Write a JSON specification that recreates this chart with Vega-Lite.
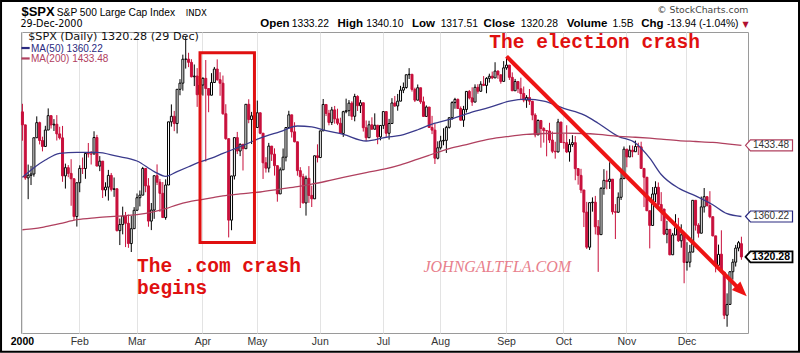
{
"$schema": "https://vega.github.io/schema/vega-lite/v6.json",
"autosize": {"type": "none"},
"width": 727, "height": 301,
"padding": {"left": 21, "top": 32, "right": 52, "bottom": 20},
"background": "white",
"config": {
  "view": {"stroke": "#9a9a9a", "strokeWidth": 1},
  "axis": {"gridColor": "#e3e3e3", "gridWidth": 1, "ticks": false, "domain": false, "labelColor": "#333333", "labelFont": "Liberation Sans", "labelFontSize": 10}
},
"datasets": {
"px": [
{"d":"2000-01-03","o":1469.25,"h":1478.00,"l":1438.36,"c":1455.22},
{"d":"2000-01-04","o":1455.22,"h":1455.22,"l":1397.43,"c":1399.42},
{"d":"2000-01-05","o":1399.42,"h":1413.27,"l":1377.68,"c":1402.11},
{"d":"2000-01-06","o":1402.11,"h":1411.90,"l":1392.10,"c":1403.45},
{"d":"2000-01-07","o":1403.45,"h":1441.47,"l":1400.73,"c":1441.47},
{"d":"2000-01-10","o":1441.47,"h":1464.36,"l":1441.47,"c":1457.60},
{"d":"2000-01-11","o":1457.60,"h":1458.66,"l":1434.42,"c":1438.56},
{"d":"2000-01-12","o":1438.56,"h":1442.60,"l":1427.08,"c":1432.25},
{"d":"2000-01-13","o":1432.25,"h":1454.20,"l":1432.25,"c":1449.68},
{"d":"2000-01-14","o":1449.68,"h":1473.00,"l":1449.68,"c":1465.15},
{"d":"2000-01-18","o":1465.15,"h":1465.15,"l":1451.30,"c":1455.14},
{"d":"2000-01-19","o":1455.14,"h":1461.39,"l":1448.68,"c":1455.90},
{"d":"2000-01-20","o":1455.90,"h":1465.71,"l":1438.54,"c":1445.57},
{"d":"2000-01-21","o":1445.57,"h":1453.18,"l":1439.60,"c":1441.36},
{"d":"2000-01-24","o":1441.36,"h":1454.09,"l":1395.42,"c":1401.53},
{"d":"2000-01-25","o":1401.53,"h":1414.26,"l":1388.49,"c":1410.03},
{"d":"2000-01-26","o":1410.03,"h":1412.73,"l":1400.16,"c":1404.09},
{"d":"2000-01-27","o":1404.09,"h":1418.86,"l":1370.99,"c":1398.56},
{"d":"2000-01-28","o":1398.56,"h":1398.56,"l":1356.20,"c":1360.16},
{"d":"2000-01-31","o":1360.16,"h":1394.48,"l":1350.14,"c":1394.46},
{"d":"2000-02-01","o":1394.46,"h":1412.49,"l":1384.79,"c":1409.28},
{"d":"2000-02-02","o":1409.28,"h":1420.61,"l":1403.49,"c":1409.12},
{"d":"2000-02-03","o":1409.12,"h":1425.78,"l":1398.52,"c":1424.97},
{"d":"2000-02-04","o":1424.97,"h":1435.91,"l":1420.63,"c":1424.37},
{"d":"2000-02-07","o":1424.37,"h":1427.38,"l":1413.33,"c":1424.24},
{"d":"2000-02-08","o":1424.24,"h":1448.36,"l":1424.24,"c":1441.72},
{"d":"2000-02-09","o":1441.72,"h":1444.55,"l":1411.65,"c":1411.71},
{"d":"2000-02-10","o":1411.71,"h":1422.10,"l":1406.43,"c":1416.83},
{"d":"2000-02-11","o":1416.83,"h":1416.83,"l":1378.89,"c":1387.12},
{"d":"2000-02-14","o":1387.12,"h":1394.93,"l":1380.53,"c":1389.94},
{"d":"2000-02-15","o":1389.94,"h":1407.72,"l":1376.25,"c":1402.05},
{"d":"2000-02-16","o":1402.05,"h":1404.55,"l":1385.58,"c":1387.67},
{"d":"2000-02-17","o":1387.67,"h":1399.88,"l":1380.07,"c":1388.26},
{"d":"2000-02-18","o":1388.26,"h":1388.59,"l":1345.32,"c":1346.09},
{"d":"2000-02-22","o":1346.09,"h":1358.11,"l":1331.88,"c":1352.17},
{"d":"2000-02-23","o":1352.17,"h":1370.11,"l":1342.44,"c":1360.69},
{"d":"2000-02-24","o":1360.69,"h":1364.80,"l":1329.88,"c":1353.43},
{"d":"2000-02-25","o":1353.43,"h":1362.14,"l":1329.15,"c":1333.36},
{"d":"2000-02-28","o":1333.36,"h":1360.82,"l":1325.07,"c":1348.05},
{"d":"2000-02-29","o":1348.05,"h":1369.63,"l":1348.05,"c":1366.42},
{"d":"2000-03-01","o":1366.42,"h":1383.46,"l":1366.42,"c":1379.19},
{"d":"2000-03-02","o":1379.19,"h":1386.56,"l":1370.35,"c":1381.76},
{"d":"2000-03-03","o":1381.76,"h":1410.88,"l":1381.76,"c":1409.17},
{"d":"2000-03-06","o":1409.17,"h":1409.74,"l":1384.75,"c":1391.28},
{"d":"2000-03-07","o":1391.28,"h":1399.21,"l":1349.99,"c":1355.62},
{"d":"2000-03-08","o":1355.62,"h":1373.79,"l":1346.62,"c":1366.70},
{"d":"2000-03-09","o":1366.70,"h":1401.82,"l":1357.88,"c":1401.69},
{"d":"2000-03-10","o":1401.69,"h":1413.46,"l":1392.07,"c":1395.07},
{"d":"2000-03-13","o":1395.07,"h":1398.39,"l":1364.84,"c":1383.62},
{"d":"2000-03-14","o":1383.62,"h":1395.15,"l":1359.15,"c":1359.15},
{"d":"2000-03-15","o":1359.15,"h":1397.99,"l":1356.99,"c":1392.14},
{"d":"2000-03-16","o":1392.14,"h":1458.47,"l":1392.14,"c":1458.47},
{"d":"2000-03-17","o":1458.47,"h":1477.33,"l":1453.32,"c":1464.47},
{"d":"2000-03-20","o":1464.47,"h":1470.30,"l":1448.49,"c":1456.63},
{"d":"2000-03-21","o":1456.63,"h":1493.92,"l":1446.06,"c":1493.87},
{"d":"2000-03-22","o":1493.87,"h":1505.08,"l":1487.33,"c":1500.64},
{"d":"2000-03-23","o":1500.64,"h":1532.50,"l":1492.39,"c":1527.35},
{"d":"2000-03-24","o":1527.35,"h":1552.87,"l":1516.83,"c":1527.46},
{"d":"2000-03-27","o":1527.46,"h":1534.63,"l":1518.46,"c":1523.86},
{"d":"2000-03-28","o":1523.86,"h":1527.36,"l":1507.09,"c":1507.73},
{"d":"2000-03-29","o":1507.73,"h":1521.45,"l":1497.45,"c":1508.52},
{"d":"2000-03-30","o":1508.52,"h":1517.38,"l":1474.63,"c":1487.92},
{"d":"2000-03-31","o":1487.92,"h":1519.81,"l":1484.38,"c":1498.58},
{"d":"2000-04-03","o":1498.58,"h":1507.19,"l":1486.96,"c":1505.97},
{"d":"2000-04-04","o":1505.97,"h":1526.45,"l":1416.41,"c":1494.73},
{"d":"2000-04-05","o":1494.73,"h":1494.73,"l":1468.86,"c":1487.37},
{"d":"2000-04-06","o":1487.37,"h":1511.76,"l":1487.37,"c":1501.34},
{"d":"2000-04-07","o":1501.34,"h":1518.68,"l":1501.34,"c":1516.35},
{"d":"2000-04-10","o":1516.35,"h":1527.19,"l":1503.35,"c":1504.46},
{"d":"2000-04-11","o":1504.46,"h":1512.80,"l":1486.78,"c":1500.59},
{"d":"2000-04-12","o":1500.59,"h":1509.08,"l":1466.15,"c":1467.17},
{"d":"2000-04-13","o":1467.17,"h":1477.52,"l":1439.34,"c":1440.51},
{"d":"2000-04-14","o":1440.51,"h":1440.51,"l":1339.40,"c":1356.56},
{"d":"2000-04-17","o":1356.56,"h":1401.53,"l":1346.50,"c":1401.44},
{"d":"2000-04-18","o":1401.44,"h":1441.61,"l":1397.81,"c":1441.61},
{"d":"2000-04-19","o":1441.61,"h":1447.69,"l":1424.26,"c":1427.47},
{"d":"2000-04-20","o":1427.47,"h":1435.49,"l":1422.08,"c":1434.54},
{"d":"2000-04-24","o":1434.54,"h":1434.54,"l":1407.13,"c":1429.86},
{"d":"2000-04-25","o":1429.86,"h":1477.67,"l":1429.86,"c":1477.44},
{"d":"2000-04-26","o":1477.44,"h":1482.94,"l":1456.98,"c":1460.99},
{"d":"2000-04-27","o":1460.99,"h":1469.21,"l":1434.81,"c":1464.92},
{"d":"2000-04-28","o":1464.92,"h":1473.62,"l":1448.15,"c":1452.43},
{"d":"2000-05-01","o":1452.43,"h":1481.51,"l":1452.43,"c":1468.25},
{"d":"2000-05-02","o":1468.25,"h":1468.25,"l":1445.22,"c":1446.29},
{"d":"2000-05-03","o":1446.29,"h":1446.29,"l":1398.36,"c":1415.10},
{"d":"2000-05-04","o":1415.10,"h":1420.99,"l":1404.94,"c":1409.57},
{"d":"2000-05-05","o":1409.57,"h":1436.03,"l":1405.08,"c":1432.63},
{"d":"2000-05-08","o":1432.63,"h":1432.63,"l":1417.05,"c":1424.17},
{"d":"2000-05-09","o":1424.17,"h":1430.28,"l":1401.85,"c":1412.14},
{"d":"2000-05-10","o":1412.14,"h":1412.14,"l":1375.14,"c":1383.05},
{"d":"2000-05-11","o":1383.05,"h":1410.26,"l":1383.05,"c":1407.81},
{"d":"2000-05-12","o":1407.81,"h":1430.13,"l":1407.81,"c":1420.96},
{"d":"2000-05-15","o":1420.96,"h":1452.39,"l":1416.54,"c":1452.36},
{"d":"2000-05-16","o":1452.36,"h":1470.40,"l":1450.76,"c":1466.04},
{"d":"2000-05-17","o":1466.04,"h":1466.04,"l":1441.67,"c":1447.80},
{"d":"2000-05-18","o":1447.80,"h":1458.04,"l":1436.59,"c":1437.21},
{"d":"2000-05-19","o":1437.21,"h":1437.21,"l":1401.74,"c":1406.95},
{"d":"2000-05-22","o":1406.95,"h":1410.55,"l":1368.73,"c":1400.72},
{"d":"2000-05-23","o":1400.72,"h":1403.77,"l":1373.43,"c":1373.86},
{"d":"2000-05-24","o":1373.86,"h":1401.75,"l":1361.09,"c":1399.05},
{"d":"2000-05-25","o":1399.05,"h":1411.65,"l":1373.93,"c":1381.52},
{"d":"2000-05-26","o":1381.52,"h":1391.42,"l":1369.75,"c":1378.02},
{"d":"2000-05-30","o":1378.02,"h":1422.45,"l":1378.02,"c":1422.45},
{"d":"2000-05-31","o":1422.45,"h":1434.49,"l":1415.50,"c":1420.60},
{"d":"2000-06-01","o":1420.60,"h":1448.81,"l":1420.60,"c":1448.81},
{"d":"2000-06-02","o":1448.81,"h":1483.23,"l":1448.81,"c":1477.26},
{"d":"2000-06-05","o":1477.26,"h":1477.28,"l":1464.68,"c":1467.63},
{"d":"2000-06-06","o":1467.63,"h":1471.36,"l":1454.74,"c":1457.84},
{"d":"2000-06-07","o":1457.84,"h":1474.64,"l":1455.06,"c":1471.36},
{"d":"2000-06-08","o":1471.36,"h":1475.65,"l":1456.49,"c":1461.67},
{"d":"2000-06-09","o":1461.67,"h":1472.67,"l":1454.96,"c":1456.95},
{"d":"2000-06-12","o":1456.95,"h":1462.93,"l":1445.99,"c":1446.00},
{"d":"2000-06-13","o":1446.00,"h":1470.42,"l":1442.38,"c":1469.44},
{"d":"2000-06-14","o":1469.44,"h":1483.62,"l":1467.71,"c":1470.54},
{"d":"2000-06-15","o":1470.54,"h":1482.04,"l":1464.62,"c":1478.73},
{"d":"2000-06-16","o":1478.73,"h":1480.77,"l":1460.42,"c":1464.46},
{"d":"2000-06-19","o":1464.46,"h":1488.93,"l":1459.05,"c":1486.00},
{"d":"2000-06-20","o":1486.00,"h":1487.32,"l":1470.18,"c":1475.95},
{"d":"2000-06-21","o":1475.95,"h":1482.19,"l":1468.00,"c":1479.13},
{"d":"2000-06-22","o":1479.13,"h":1479.13,"l":1448.03,"c":1452.18},
{"d":"2000-06-23","o":1452.18,"h":1459.94,"l":1438.31,"c":1441.48},
{"d":"2000-06-26","o":1441.48,"h":1459.66,"l":1441.48,"c":1455.31},
{"d":"2000-06-27","o":1455.31,"h":1463.35,"l":1450.55,"c":1450.55},
{"d":"2000-06-28","o":1450.55,"h":1467.63,"l":1450.55,"c":1454.82},
{"d":"2000-06-29","o":1454.82,"h":1455.14,"l":1434.63,"c":1442.39},
{"d":"2000-06-30","o":1442.39,"h":1454.68,"l":1438.71,"c":1454.60},
{"d":"2000-07-03","o":1454.60,"h":1469.58,"l":1450.85,"c":1469.54},
{"d":"2000-07-05","o":1469.54,"h":1469.54,"l":1442.45,"c":1446.23},
{"d":"2000-07-06","o":1446.23,"h":1461.65,"l":1439.56,"c":1456.67},
{"d":"2000-07-07","o":1456.67,"h":1484.12,"l":1456.67,"c":1478.90},
{"d":"2000-07-10","o":1478.90,"h":1486.56,"l":1474.76,"c":1475.62},
{"d":"2000-07-11","o":1475.62,"h":1488.77,"l":1470.48,"c":1480.88},
{"d":"2000-07-12","o":1480.88,"h":1497.69,"l":1480.88,"c":1492.92},
{"d":"2000-07-13","o":1492.92,"h":1501.39,"l":1489.65,"c":1495.84},
{"d":"2000-07-14","o":1495.84,"h":1509.99,"l":1494.56,"c":1509.98},
{"d":"2000-07-17","o":1509.98,"h":1517.32,"l":1505.26,"c":1510.49},
{"d":"2000-07-18","o":1510.49,"h":1510.49,"l":1491.35,"c":1493.74},
{"d":"2000-07-19","o":1493.74,"h":1495.63,"l":1479.92,"c":1481.96},
{"d":"2000-07-20","o":1481.96,"h":1499.19,"l":1481.96,"c":1495.57},
{"d":"2000-07-21","o":1495.57,"h":1495.57,"l":1477.91,"c":1480.19},
{"d":"2000-07-24","o":1480.19,"h":1485.88,"l":1463.80,"c":1464.29},
{"d":"2000-07-25","o":1464.29,"h":1476.23,"l":1464.29,"c":1474.47},
{"d":"2000-07-26","o":1474.47,"h":1474.47,"l":1452.42,"c":1452.42},
{"d":"2000-07-27","o":1452.42,"h":1464.91,"l":1445.33,"c":1449.62},
{"d":"2000-07-28","o":1449.62,"h":1456.68,"l":1413.89,"c":1419.89},
{"d":"2000-07-31","o":1419.89,"h":1437.65,"l":1418.71,"c":1430.83},
{"d":"2000-08-01","o":1430.83,"h":1443.54,"l":1428.96,"c":1438.10},
{"d":"2000-08-02","o":1438.10,"h":1451.59,"l":1433.49,"c":1438.70},
{"d":"2000-08-03","o":1438.70,"h":1454.19,"l":1425.43,"c":1452.56},
{"d":"2000-08-04","o":1452.56,"h":1462.93,"l":1451.31,"c":1462.93},
{"d":"2000-08-07","o":1462.93,"h":1480.80,"l":1460.72,"c":1479.32},
{"d":"2000-08-08","o":1479.32,"h":1484.52,"l":1472.61,"c":1482.80},
{"d":"2000-08-09","o":1482.80,"h":1483.80,"l":1472.84,"c":1472.87},
{"d":"2000-08-10","o":1472.87,"h":1475.15,"l":1459.89,"c":1460.25},
{"d":"2000-08-11","o":1460.25,"h":1475.72,"l":1453.06,"c":1471.84},
{"d":"2000-08-14","o":1471.84,"h":1491.64,"l":1468.56,"c":1491.56},
{"d":"2000-08-15","o":1491.56,"h":1493.12,"l":1482.74,"c":1484.43},
{"d":"2000-08-16","o":1484.43,"h":1496.09,"l":1475.74,"c":1479.85},
{"d":"2000-08-17","o":1479.85,"h":1499.32,"l":1479.85,"c":1496.07},
{"d":"2000-08-18","o":1496.07,"h":1499.47,"l":1488.99,"c":1491.72},
{"d":"2000-08-21","o":1491.72,"h":1502.84,"l":1491.13,"c":1499.48},
{"d":"2000-08-22","o":1499.48,"h":1508.45,"l":1497.42,"c":1498.13},
{"d":"2000-08-23","o":1498.13,"h":1507.20,"l":1489.52,"c":1505.97},
{"d":"2000-08-24","o":1505.97,"h":1511.16,"l":1501.25,"c":1508.31},
{"d":"2000-08-25","o":1508.31,"h":1513.47,"l":1505.09,"c":1506.45},
{"d":"2000-08-28","o":1506.45,"h":1523.95,"l":1506.45,"c":1514.09},
{"d":"2000-08-29","o":1514.09,"h":1514.81,"l":1505.46,"c":1509.84},
{"d":"2000-08-30","o":1509.84,"h":1510.49,"l":1500.09,"c":1502.59},
{"d":"2000-08-31","o":1502.59,"h":1525.21,"l":1502.59,"c":1517.68},
{"d":"2000-09-01","o":1517.68,"h":1530.09,"l":1515.53,"c":1520.77},
{"d":"2000-09-05","o":1520.77,"h":1520.77,"l":1504.21,"c":1507.08},
{"d":"2000-09-06","o":1507.08,"h":1512.61,"l":1492.12,"c":1492.25},
{"d":"2000-09-07","o":1492.25,"h":1505.34,"l":1492.25,"c":1502.51},
{"d":"2000-09-08","o":1502.51,"h":1502.51,"l":1489.88,"c":1494.50},
{"d":"2000-09-11","o":1494.50,"h":1506.76,"l":1483.01,"c":1489.26},
{"d":"2000-09-12","o":1489.26,"h":1496.93,"l":1479.67,"c":1481.99},
{"d":"2000-09-13","o":1481.99,"h":1487.45,"l":1473.61,"c":1484.91},
{"d":"2000-09-14","o":1484.91,"h":1494.16,"l":1476.73,"c":1480.87},
{"d":"2000-09-15","o":1480.87,"h":1480.96,"l":1460.22,"c":1465.81},
{"d":"2000-09-18","o":1465.81,"h":1467.77,"l":1441.92,"c":1444.51},
{"d":"2000-09-19","o":1444.51,"h":1461.16,"l":1444.51,"c":1459.90},
{"d":"2000-09-20","o":1459.90,"h":1460.49,"l":1430.95,"c":1451.34},
{"d":"2000-09-21","o":1451.34,"h":1452.77,"l":1436.30,"c":1449.05},
{"d":"2000-09-22","o":1449.05,"h":1449.05,"l":1421.88,"c":1448.72},
{"d":"2000-09-25","o":1448.72,"h":1457.42,"l":1435.93,"c":1439.03},
{"d":"2000-09-26","o":1439.03,"h":1448.04,"l":1425.25,"c":1427.21},
{"d":"2000-09-27","o":1427.21,"h":1437.22,"l":1419.44,"c":1426.57},
{"d":"2000-09-28","o":1426.57,"h":1461.69,"l":1425.78,"c":1458.29},
{"d":"2000-09-29","o":1458.29,"h":1458.29,"l":1436.29,"c":1436.51},
{"d":"2000-10-02","o":1436.52,"h":1445.60,"l":1429.83,"c":1436.23},
{"d":"2000-10-03","o":1436.23,"h":1454.82,"l":1425.28,"c":1426.46},
{"d":"2000-10-04","o":1426.46,"h":1439.99,"l":1416.31,"c":1434.32},
{"d":"2000-10-05","o":1434.32,"h":1444.17,"l":1431.80,"c":1436.28},
{"d":"2000-10-06","o":1436.28,"h":1443.30,"l":1397.06,"c":1408.99},
{"d":"2000-10-09","o":1408.99,"h":1409.69,"l":1392.48,"c":1402.03},
{"d":"2000-10-10","o":1402.03,"h":1408.83,"l":1383.85,"c":1387.02},
{"d":"2000-10-11","o":1387.02,"h":1387.02,"l":1349.67,"c":1364.59},
{"d":"2000-10-12","o":1364.59,"h":1374.93,"l":1328.06,"c":1329.78},
{"d":"2000-10-13","o":1329.78,"h":1374.17,"l":1327.08,"c":1374.17},
{"d":"2000-10-16","o":1374.17,"h":1379.48,"l":1365.06,"c":1374.62},
{"d":"2000-10-17","o":1374.62,"h":1380.99,"l":1342.34,"c":1349.97},
{"d":"2000-10-18","o":1349.97,"h":1356.65,"l":1305.79,"c":1342.13},
{"d":"2000-10-19","o":1342.13,"h":1389.93,"l":1342.13,"c":1388.76},
{"d":"2000-10-20","o":1388.76,"h":1408.47,"l":1382.19,"c":1396.93},
{"d":"2000-10-23","o":1396.93,"h":1406.96,"l":1387.75,"c":1395.78},
{"d":"2000-10-24","o":1395.78,"h":1415.64,"l":1388.13,"c":1398.13},
{"d":"2000-10-25","o":1398.13,"h":1398.13,"l":1362.21,"c":1364.90},
{"d":"2000-10-26","o":1364.90,"h":1372.72,"l":1337.81,"c":1364.44},
{"d":"2000-10-27","o":1364.44,"h":1384.57,"l":1364.13,"c":1379.58},
{"d":"2000-10-30","o":1379.58,"h":1406.36,"l":1376.86,"c":1398.66},
{"d":"2000-10-31","o":1398.66,"h":1432.22,"l":1398.66,"c":1429.40},
{"d":"2000-11-01","o":1429.40,"h":1429.60,"l":1410.45,"c":1421.22},
{"d":"2000-11-02","o":1421.22,"h":1433.40,"l":1421.22,"c":1428.32},
{"d":"2000-11-03","o":1428.32,"h":1433.21,"l":1420.92,"c":1426.69},
{"d":"2000-11-06","o":1426.69,"h":1438.46,"l":1426.69,"c":1432.19},
{"d":"2000-11-07","o":1432.19,"h":1436.22,"l":1423.26,"c":1431.87},
{"d":"2000-11-08","o":1431.87,"h":1437.28,"l":1408.78,"c":1409.28},
{"d":"2000-11-09","o":1409.28,"h":1409.28,"l":1369.68,"c":1400.14},
{"d":"2000-11-10","o":1400.14,"h":1400.14,"l":1365.97,"c":1365.98},
{"d":"2000-11-13","o":1365.98,"h":1365.98,"l":1328.62,"c":1351.26},
{"d":"2000-11-14","o":1351.26,"h":1390.06,"l":1351.26,"c":1382.95},
{"d":"2000-11-15","o":1382.95,"h":1395.96,"l":1374.75,"c":1389.81},
{"d":"2000-11-16","o":1389.81,"h":1394.76,"l":1370.39,"c":1372.32},
{"d":"2000-11-17","o":1372.32,"h":1384.85,"l":1355.55,"c":1367.72},
{"d":"2000-11-20","o":1367.72,"h":1367.72,"l":1341.67,"c":1342.62},
{"d":"2000-11-21","o":1342.62,"h":1355.87,"l":1333.62,"c":1347.35},
{"d":"2000-11-22","o":1347.35,"h":1347.35,"l":1321.89,"c":1322.36},
{"d":"2000-11-24","o":1322.36,"h":1343.83,"l":1322.36,"c":1341.77},
{"d":"2000-11-27","o":1341.77,"h":1362.50,"l":1341.77,"c":1348.97},
{"d":"2000-11-28","o":1348.97,"h":1358.81,"l":1334.97,"c":1336.09},
{"d":"2000-11-29","o":1336.09,"h":1352.38,"l":1329.28,"c":1341.93},
{"d":"2000-11-30","o":1341.91,"h":1341.91,"l":1294.90,"c":1314.95},
{"d":"2000-12-01","o":1314.95,"h":1334.67,"l":1307.02,"c":1315.23},
{"d":"2000-12-04","o":1315.18,"h":1332.06,"l":1310.23,"c":1324.97},
{"d":"2000-12-05","o":1324.97,"h":1376.56,"l":1324.97,"c":1376.54},
{"d":"2000-12-06","o":1376.54,"h":1376.54,"l":1346.15,"c":1351.46},
{"d":"2000-12-07","o":1351.46,"h":1353.50,"l":1339.26,"c":1343.55},
{"d":"2000-12-08","o":1343.55,"h":1380.33,"l":1343.55,"c":1369.89},
{"d":"2000-12-11","o":1369.89,"h":1389.05,"l":1364.14,"c":1380.20},
{"d":"2000-12-12","o":1380.20,"h":1380.27,"l":1370.27,"c":1371.18},
{"d":"2000-12-13","o":1371.18,"h":1385.82,"l":1358.48,"c":1359.99},
{"d":"2000-12-14","o":1359.99,"h":1359.99,"l":1340.48,"c":1340.93},
{"d":"2000-12-15","o":1340.93,"h":1340.93,"l":1305.38,"c":1312.15},
{"d":"2000-12-18","o":1312.15,"h":1332.32,"l":1310.10,"c":1322.74},
{"d":"2000-12-19","o":1322.96,"h":1346.44,"l":1305.20,"c":1305.60},
{"d":"2000-12-20","o":1305.60,"h":1305.60,"l":1261.16,"c":1264.74},
{"d":"2000-12-21","o":1264.74,"h":1285.31,"l":1254.07,"c":1274.86},
{"d":"2000-12-22","o":1274.86,"h":1305.97,"l":1274.86,"c":1305.95},
{"d":"2000-12-26","o":1305.97,"h":1318.31,"l":1298.31,"c":1315.19},
{"d":"2000-12-27","o":1315.19,"h":1332.03,"l":1310.96,"c":1328.92},
{"d":"2000-12-28","o":1328.92,"h":1335.93,"l":1325.78,"c":1334.22},
{"d":"2000-12-29","o":1333.22,"h":1340.10,"l":1317.51,"c":1320.28}
],
"ma": [
{"d":"2000-01-03","a":1400,"b":1347},
{"d":"2000-01-07","a":1410,"b":1348},
{"d":"2000-01-13","a":1418,"b":1350},
{"d":"2000-01-21","a":1425,"b":1353},
{"d":"2000-01-31","a":1426,"b":1357},
{"d":"2000-02-09","a":1426,"b":1359},
{"d":"2000-02-18","a":1422,"b":1360.5},
{"d":"2000-03-01","a":1417,"b":1362},
{"d":"2000-03-09","a":1406,"b":1365},
{"d":"2000-03-15","a":1401,"b":1368},
{"d":"2000-03-21","a":1406,"b":1372},
{"d":"2000-03-27","a":1411,"b":1375},
{"d":"2000-03-31","a":1416,"b":1377},
{"d":"2000-04-06","a":1420,"b":1379},
{"d":"2000-04-12","a":1425,"b":1381},
{"d":"2000-04-20","a":1432,"b":1383},
{"d":"2000-05-02","a":1441,"b":1385},
{"d":"2000-05-11","a":1448,"b":1388},
{"d":"2000-05-19","a":1454,"b":1390.5},
{"d":"2000-05-26","a":1453,"b":1393},
{"d":"2000-06-05","a":1449,"b":1396},
{"d":"2000-06-13","a":1445,"b":1400},
{"d":"2000-06-23","a":1438,"b":1405},
{"d":"2000-07-05","a":1442,"b":1409},
{"d":"2000-07-12","a":1444,"b":1413},
{"d":"2000-07-20","a":1450,"b":1419},
{"d":"2000-07-26","a":1455,"b":1423},
{"d":"2000-08-04","a":1461,"b":1430},
{"d":"2000-08-15","a":1468,"b":1435},
{"d":"2000-08-24","a":1474,"b":1440},
{"d":"2000-09-05","a":1481,"b":1443},
{"d":"2000-09-13","a":1483,"b":1445},
{"d":"2000-09-21","a":1481,"b":1446},
{"d":"2000-10-02","a":1473,"b":1446.5},
{"d":"2000-10-11","a":1466,"b":1446},
{"d":"2000-10-18","a":1457,"b":1445},
{"d":"2000-10-27","a":1443,"b":1443},
{"d":"2000-11-06","a":1436,"b":1442},
{"d":"2000-11-13","a":1420,"b":1441},
{"d":"2000-11-17","a":1403,"b":1440},
{"d":"2000-11-28","a":1389,"b":1438.5},
{"d":"2000-12-06","a":1381,"b":1437.5},
{"d":"2000-12-14","a":1372,"b":1436.5},
{"d":"2000-12-21","a":1363,"b":1435},
{"d":"2000-12-29","a":1360.22,"b":1433.48}
]
},
"encoding": {
  "x": {"field": "d", "type": "ordinal",
    "scale": {"type": "band", "paddingInner": 0, "paddingOuter": 0.9, "align": 0},
    "axis": {"title": null, "grid": true, "labelAngle": 0, "labelPadding": 3, "bandPosition": 0.5,
      "labelFont": "Liberation Sans Narrow, Liberation Sans", "labelFontSize": 10.5, "labelOverlap": false,
      "values": ["2000-01-03","2000-02-01","2000-03-01","2000-04-03","2000-05-01","2000-06-01","2000-07-03","2000-08-01","2000-09-01","2000-10-02","2000-11-01","2000-12-01"],
      "labelExpr": "datum.value == '2000-01-03' ? '2000' : timeFormat(toDate(datum.value + 'T12:00:00'), '%b')",
      "labelFontWeight": {"condition": {"test": "datum.value == '2000-01-03'", "value": "bold"}, "value": "normal"},
      "labelColor": {"condition": {"test": "datum.value == '2000-01-03'", "value": "#000000"}, "value": "#333333"}}
  }
},
"layer": [
  {"data": {"name": "px"}, "mark": {"type": "rule", "strokeWidth": 1},
   "encoding": {
     "y": {"field": "l", "type": "quantitative", "scale": {"type": "log", "domain": [1248.3, 1558.3], "nice": false},
       "axis": {"orient": "right", "title": null, "grid": true, "labelPadding": 4, "format": "d",
         "values": [1260,1280,1300,1320,1340,1360,1380,1400,1420,1440,1460,1480,1500,1520,1540]}},
     "y2": {"field": "h"},
     "color": {"condition": {"test": "datum.c >= datum.o", "value": "#000000"}, "value": "#c8103c"}
   }},
  {"data": {"name": "px"}, "mark": {"type": "bar", "size": 2, "strokeWidth": 1},
   "encoding": {
     "y": {"field": "o", "type": "quantitative", "scale": {"type": "log", "domain": [1248.3, 1558.3], "nice": false}, "axis": null},
     "y2": {"field": "c"},
     "fill": {"condition": {"test": "datum.c >= datum.o", "value": "#ffffff"}, "value": "#c8103c"},
     "stroke": {"condition": {"test": "datum.c >= datum.o", "value": "#000000"}, "value": "#c8103c"}
   }},
  {"data": {"name": "ma"}, "mark": {"type": "line", "stroke": "#3a3a8c", "strokeWidth": 1.3, "interpolate": "monotone"},
   "encoding": {"y": {"field": "a", "type": "quantitative", "scale": {"type": "log", "domain": [1248.3, 1558.3], "nice": false}, "axis": null}}},
  {"data": {"name": "ma"}, "mark": {"type": "line", "stroke": "#b0405f", "strokeWidth": 1.3, "interpolate": "monotone"},
   "encoding": {"y": {"field": "b", "type": "quantitative", "scale": {"type": "log", "domain": [1248.3, 1558.3], "nice": false}, "axis": null}}},
  {"data": {"values": [{"d": "2000-03-31", "d2": "2000-04-28", "v": 1534.6, "v2": 1334.4}]},
   "mark": {"type": "rect", "fill": null, "fillOpacity": 0, "stroke": "#e01010", "strokeWidth": 3},
   "encoding": {"x2": {"field": "d2"},
     "y": {"field": "v", "type": "quantitative", "scale": {"type": "log", "domain": [1248.3, 1558.3], "nice": false}, "axis": null},
     "y2": {"field": "v2"}}},
  {"data": {"values": [{"d": "2000-09-01", "v": 1530.6}, {"d": "2000-12-29", "v": 1287.5}]},
   "mark": {"type": "line", "stroke": "#ee1414", "strokeWidth": 4},
   "encoding": {"y": {"field": "v", "type": "quantitative", "scale": {"type": "log", "domain": [1248.3, 1558.3], "nice": false}, "axis": null}}},
  {"data": {"values": [{"d": "2000-12-29", "v": 1287.5}]},
   "mark": {"type": "point", "shape": "M 1 0 L -1 -0.8 L -1 0.8 Z", "size": 225, "angle": 45, "filled": true, "fill": "#ee1414", "opacity": 1, "strokeWidth": 0},
   "encoding": {"y": {"field": "v", "type": "quantitative", "scale": {"type": "log", "domain": [1248.3, 1558.3], "nice": false}, "axis": null}}},
  {"data": {"values": [{"d": "2000-03-01", "v": 1305.6, "t": "The .com crash"}, {"d": "2000-03-01", "v": 1284.7, "t": "begins"}, {"d": "2000-08-24", "v": 1540, "t": "The election crash"}]},
   "mark": {"type": "text", "font": "Liberation Mono", "fontWeight": "bold", "fontSize": 19.5, "fill": "#e01010", "align": "left", "baseline": "alphabetic"},
   "encoding": {"y": {"field": "v", "type": "quantitative", "scale": {"type": "log", "domain": [1248.3, 1558.3], "nice": false}, "axis": null}, "text": {"field": "t"}}},
  {"data": {"values": [{"d": "2000-07-24", "v": 1305.6, "t": "JOHNGALTFLA.COM"}]},
   "mark": {"type": "text", "font": "Liberation Serif", "fontStyle": "italic", "fontSize": 16, "fill": "#e8808c", "align": "left", "baseline": "alphabetic"},
   "encoding": {"y": {"field": "v", "type": "quantitative", "scale": {"type": "log", "domain": [1248.3, 1558.3], "nice": false}, "axis": null}, "text": {"field": "t"}}},
  {"data": {"values": [{"d": "2000-01-05", "v": 1549.1, "t": "$SPX (Daily) 1320.28 (29 Dec)"}]},
   "mark": {"type": "text", "font": "DejaVu Sans", "fontSize": 11.2, "fill": "#111111", "align": "left", "baseline": "alphabetic"},
   "encoding": {"y": {"field": "v", "type": "quantitative", "scale": {"type": "log", "domain": [1248.3, 1558.3], "nice": false}, "axis": null}, "text": {"field": "t"}}},
  {"data": {"values": [{"d": "2000-01-06", "v": 1536.0, "t": "MA(50) 1360.22", "k": "ma50"}, {"d": "2000-01-06", "v": 1524.2, "t": "MA(200) 1433.48", "k": "ma200"}]},
   "mark": {"type": "text", "font": "Liberation Sans", "fontSize": 10, "align": "left", "baseline": "alphabetic"},
   "encoding": {"y": {"field": "v", "type": "quantitative", "scale": {"type": "log", "domain": [1248.3, 1558.3], "nice": false}, "axis": null}, "text": {"field": "t"},
     "fill": {"field": "k", "type": "nominal", "scale": {"domain": ["ma50", "ma200"], "range": ["#2a2a80", "#b0405f"]}, "legend": null}}},
  {"data": {"values": [{"d": "2000-01-03", "d2": "2000-01-05", "v": 1540, "k": "ma50"}, {"d": "2000-01-03", "d2": "2000-01-05", "v": 1528.2, "k": "ma200"}]},
   "mark": {"type": "rule", "strokeWidth": 2.2, "xOffset": -1, "x2Offset": 1.5},
   "encoding": {"x2": {"field": "d2"},
     "y": {"field": "v", "type": "quantitative", "scale": {"type": "log", "domain": [1248.3, 1558.3], "nice": false}, "axis": null},
     "stroke": {"field": "k", "type": "nominal", "scale": {"domain": ["ma50", "ma200"], "range": ["#2a2a80", "#b0405f"]}, "legend": null}}},
  {"data": {"values": [{"d": "2000-12-29", "v": 1433.48, "k": "ma200"}, {"d": "2000-12-29", "v": 1360.22, "k": "ma50"}]},
   "mark": {"type": "point", "shape": "M -1 0 L -0.79 -0.234 L 1 -0.234 L 1 0.234 L -0.79 0.234 Z", "size": 2209, "xOffset": 27.6, "fill": "#ffffff", "filled": true, "opacity": 1, "strokeWidth": 1.2},
   "encoding": {"y": {"field": "v", "type": "quantitative", "scale": {"type": "log", "domain": [1248.3, 1558.3], "nice": false}, "axis": null},
     "stroke": {"field": "k", "type": "nominal", "scale": {"domain": ["ma50", "ma200"], "range": ["#2a2a80", "#b0405f"]}, "legend": null}}},
  {"data": {"values": [{"d": "2000-12-29", "v": 1320.28}]},
   "mark": {"type": "point", "shape": "M -1 0 L -0.79 -0.234 L 1 -0.234 L 1 0.234 L -0.79 0.234 Z", "size": 2209, "xOffset": 27.6, "fill": "#ffffff", "filled": true, "opacity": 1, "stroke": "#000000", "strokeWidth": 1.8},
   "encoding": {"y": {"field": "v", "type": "quantitative", "scale": {"type": "log", "domain": [1248.3, 1558.3], "nice": false}, "axis": null}}},
  {"data": {"values": [{"d": "2000-12-29", "v": 1433.48, "t": "1433.48"}, {"d": "2000-12-29", "v": 1360.22, "t": "1360.22"}]},
   "mark": {"type": "text", "font": "Liberation Sans", "fontSize": 10, "fill": "#333333", "align": "center", "baseline": "middle", "dx": 29.6},
   "encoding": {"y": {"field": "v", "type": "quantitative", "scale": {"type": "log", "domain": [1248.3, 1558.3], "nice": false}, "axis": null}, "text": {"field": "t"}}},
  {"data": {"values": [{"d": "2000-12-29", "v": 1320.28, "t": "1320.28"}]},
   "mark": {"type": "text", "font": "Liberation Sans", "fontSize": 10.5, "fontWeight": "bold", "fill": "#000000", "align": "center", "baseline": "middle", "dx": 29.6},
   "encoding": {"y": {"field": "v", "type": "quantitative", "scale": {"type": "log", "domain": [1248.3, 1558.3], "nice": false}, "axis": null}, "text": {"field": "t"}}},
  {"data": {"values": [{"d": "2000-01-03", "v": 1577.3, "t": "$SPX"}]},
   "mark": {"type": "text", "font": "Liberation Sans", "fontSize": 13, "fontWeight": "bold", "fill": "#000000", "align": "left", "baseline": "alphabetic", "dx": -1},
   "encoding": {"y": {"field": "v", "type": "quantitative", "scale": {"type": "log", "domain": [1248.3, 1558.3], "nice": false}, "axis": null}, "text": {"field": "t"}}},
  {"data": {"values": [{"d": "2000-01-20", "v": 1577.3, "t": "S&P 500 Large Cap Index"}]},
   "mark": {"type": "text", "font": "Liberation Sans", "fontSize": 10.2, "fill": "#000000", "align": "left", "baseline": "alphabetic"},
   "encoding": {"y": {"field": "v", "type": "quantitative", "scale": {"type": "log", "domain": [1248.3, 1558.3], "nice": false}, "axis": null}, "text": {"field": "t"}}},
  {"data": {"values": [{"d": "2000-03-24", "v": 1577.3, "t": "INDX"}]},
   "mark": {"type": "text", "font": "DejaVu Sans", "fontSize": 8.5, "fill": "#000000", "align": "left", "baseline": "alphabetic"},
   "encoding": {"y": {"field": "v", "type": "quantitative", "scale": {"type": "log", "domain": [1248.3, 1558.3], "nice": false}, "axis": null}, "text": {"field": "t"}}},
  {"data": {"values": [{"d": "2000-01-03", "v": 1564.0, "t": "29-Dec-2000"}]},
   "mark": {"type": "text", "font": "DejaVu Sans", "fontSize": 9.6, "fill": "#000000", "align": "left", "baseline": "alphabetic", "dx": -2},
   "encoding": {"y": {"field": "v", "type": "quantitative", "scale": {"type": "log", "domain": [1248.3, 1558.3], "nice": false}, "axis": null}, "text": {"field": "t"}}},
  {"data": {"values": [{"d": "2000-12-29", "v": 1580.8, "t": "© StockCharts.com"}]},
   "mark": {"type": "text", "font": "DejaVu Sans", "fontSize": 9.3, "fill": "#444444", "align": "right", "baseline": "alphabetic", "dx": 7},
   "encoding": {"y": {"field": "v", "type": "quantitative", "scale": {"type": "log", "domain": [1248.3, 1558.3], "nice": false}, "axis": null}, "text": {"field": "t"}}},
  {"data": {"values": [{"d": "2000-05-02", "v": 1564.6, "t": "Open"}, {"d": "2000-06-09", "v": 1564.6, "t": "High"}, {"d": "2000-07-18", "v": 1564.6, "t": "Low"}, {"d": "2000-08-22", "v": 1564.6, "t": "Close"}, {"d": "2000-10-03", "v": 1564.6, "t": "Volume"}, {"d": "2000-11-08", "v": 1564.6, "t": "Chg"}]},
   "mark": {"type": "text", "font": "Liberation Sans", "fontSize": 11.5, "fontWeight": "bold", "fill": "#000000", "align": "left", "baseline": "alphabetic"},
   "encoding": {"y": {"field": "v", "type": "quantitative", "scale": {"type": "log", "domain": [1248.3, 1558.3], "nice": false}, "axis": null}, "text": {"field": "t"}}},
  {"data": {"values": [{"d": "2000-05-17", "v": 1564.6, "t": "1333.22"}, {"d": "2000-06-23", "v": 1564.6, "t": "1340.10"}, {"d": "2000-08-01", "v": 1564.6, "t": "1317.51"}, {"d": "2000-09-11", "v": 1564.6, "t": "1320.28"}, {"d": "2000-10-25", "v": 1564.6, "t": "1.5B"}, {"d": "2000-11-21", "v": 1564.6, "t": "-13.94 (-1.04%)"}]},
   "mark": {"type": "text", "font": "Liberation Sans", "fontSize": 10.3, "fill": "#000000", "align": "left", "baseline": "alphabetic"},
   "encoding": {"y": {"field": "v", "type": "quantitative", "scale": {"type": "log", "domain": [1248.3, 1558.3], "nice": false}, "axis": null}, "text": {"field": "t"}}},
  {"data": {"values": [{"d": "2000-12-29", "v": 1564.6, "t": "▼"}]},
   "mark": {"type": "text", "font": "DejaVu Sans", "fontSize": 8, "fill": "#b01030", "align": "left", "baseline": "alphabetic", "dx": 1},
   "encoding": {"y": {"field": "v", "type": "quantitative", "scale": {"type": "log", "domain": [1248.3, 1558.3], "nice": false}, "axis": null}, "text": {"field": "t"}}},
  {"data": {"values": [{"d": "2000-01-03", "d2": "2000-12-29", "v": 1594.3, "v2": 1231.1}]},
   "mark": {"type": "rect", "fill": null, "fillOpacity": 0, "stroke": "#000000", "strokeWidth": 2, "xOffset": -21.4, "x2Offset": 57.6},
   "encoding": {"x2": {"field": "d2"},
     "y": {"field": "v", "type": "quantitative", "scale": {"type": "log", "domain": [1248.3, 1558.3], "nice": false}, "axis": null},
     "y2": {"field": "v2"}}}
]
}
